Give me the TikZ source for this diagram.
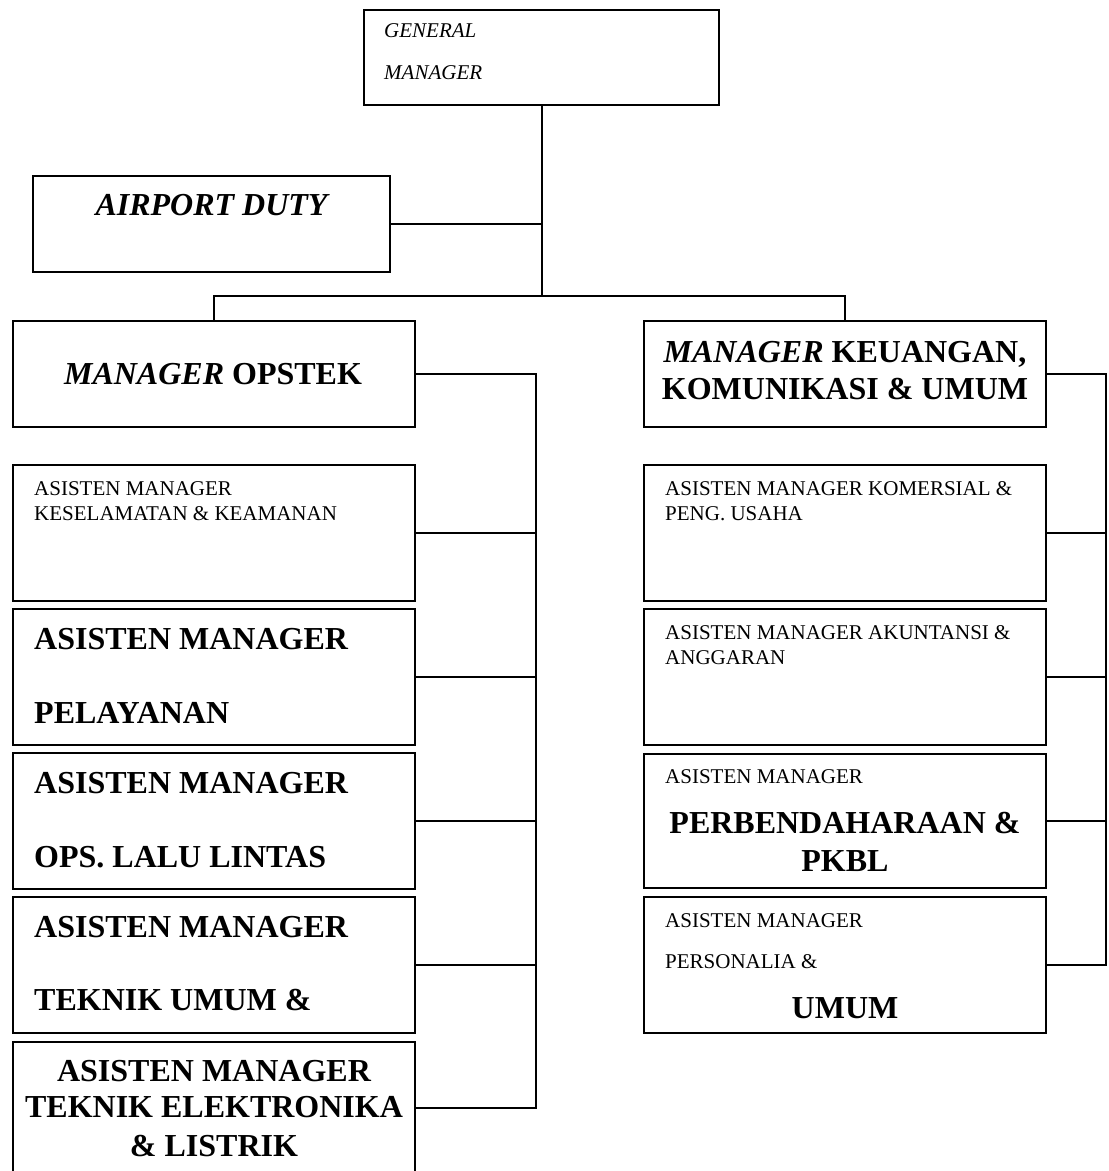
\documentclass[tikz,border=0pt]{standalone}
\usepackage{fontspec}
\setmainfont{Liberation Serif}
\begin{document}
\begin{tikzpicture}[x=1pt,y=-1pt,
  box/.style={draw=black,line width=2pt,rectangle,inner sep=0pt,fill=white},
  conn/.style={draw=black,line width=2pt},
  sm/.style={inner sep=0pt,anchor=base west,font=\fontsize{21}{25}\selectfont},
  smi/.style={inner sep=0pt,anchor=base west,font=\fontsize{21}{25}\selectfont\itshape},
  bg/.style={inner sep=0pt,anchor=base west,font=\fontsize{32}{38}\selectfont\bfseries},
  bgc/.style={inner sep=0pt,anchor=base,font=\fontsize{32}{38}\selectfont\bfseries}]
\useasboundingbox (0,0) rectangle (1109,1171);
\clip (0,0) rectangle (1109,1171);
\fill[white] (0,0) rectangle (1109,1171);

% boxes
\node[box,minimum width=355pt,minimum height=95pt] (gm) at (541.5,57.5) {};
\node[box,minimum width=357pt,minimum height=96pt] (ad) at (211.5,224) {};
\node[box,minimum width=402pt,minimum height=106pt] (op) at (214,374) {};
\node[box,minimum width=402pt,minimum height=136pt] (ks) at (214,533) {};
\node[box,minimum width=402pt,minimum height=136pt] (pl) at (214,677) {};
\node[box,minimum width=402pt,minimum height=136pt] (ol) at (214,821) {};
\node[box,minimum width=402pt,minimum height=136pt] (tu) at (214,965) {};
\node[box,minimum width=402pt,minimum height=132pt] (el) at (214,1108) {};
\node[box,minimum width=402pt,minimum height=106pt] (kc) at (845,374) {};
\node[box,minimum width=402pt,minimum height=136pt] (km) at (845,533) {};
\node[box,minimum width=402pt,minimum height=136pt] (ak) at (845,677) {};
\node[box,minimum width=402pt,minimum height=134pt] (pb) at (845,821) {};
\node[box,minimum width=402pt,minimum height=136pt] (ps) at (845,965) {};

% helper coordinates
\coordinate (busM) at (541.5,296);
\coordinate (lbx) at (536,0);
\coordinate (rbx) at (1106,0);

% connectors
\draw[conn] (gm.south) -- (busM);
\draw[conn] (ad.east) -- (ad.east -| busM);
\draw[conn] (op.north) |- (busM) -| (kc.north);
\draw[conn] (op.east) -- (op.east -| lbx) -- (el.east -| lbx) -- (el.east);
\draw[conn] (ks.east) -- (ks.east -| lbx);
\draw[conn] (pl.east) -- (pl.east -| lbx);
\draw[conn] (ol.east) -- (ol.east -| lbx);
\draw[conn] (tu.east) -- (tu.east -| lbx);
\draw[conn] (kc.east) -- (kc.east -| rbx) -- (ps.east -| rbx) -- (ps.east);
\draw[conn] (km.east) -- (km.east -| rbx);
\draw[conn] (ak.east) -- (ak.east -| rbx);
\draw[conn] (pb.east) -- (pb.east -| rbx);

% texts
\node[smi] (gmT1) at (384,37) {GENERAL};
\node[smi] (gmT2) at (384,79) {MANAGER};
\node[bgc,font=\fontsize{32}{38}\selectfont\bfseries\itshape] (adT) at (211.5,215) {AIRPORT DUTY};
\node[bgc] (opT) at (213,384) {\textit{MANAGER} OPSTEK};
\node[bgc] (kcT1) at (845,362) {\textit{MANAGER} KEUANGAN,};
\node[bgc] (kcT2) at (845,399) {KOMUNIKASI \& UMUM};

\node[sm] (ksT1) at (34,495) {ASISTEN MANAGER};
\node[sm] (ksT2) at (34,520) {KESELAMATAN \& KEAMANAN};
\node[bg] (plT1) at (34,649) {ASISTEN MANAGER};
\node[bg] (plT2) at (34,723) {PELAYANAN};
\node[bg] (olT1) at (34,793) {ASISTEN MANAGER};
\node[bg] (olT2) at (34,867) {OPS. LALU LINTAS};
\node[bg] (tuT1) at (34,937) {ASISTEN MANAGER};
\node[bg] (tuT2) at (34,1010) {TEKNIK UMUM \&};
\node[bgc] (elT1) at (214,1081) {ASISTEN MANAGER};
\node[bgc] (elT2) at (214,1117) {TEKNIK ELEKTRONIKA};
\node[bgc] (elT3) at (214,1156) {\& LISTRIK};

\node[sm] (kmT1) at (665,495) {ASISTEN MANAGER KOMERSIAL \&};
\node[sm] (kmT2) at (665,520) {PENG. USAHA};
\node[sm] (akT1) at (665,639) {ASISTEN MANAGER AKUNTANSI \&};
\node[sm] (akT2) at (665,664) {ANGGARAN};
\node[sm] (pbT1) at (665,783) {ASISTEN MANAGER};
\node[bgc] (pbT2) at (845,833) {PERBENDAHARAAN \&};
\node[bgc] (pbT3) at (845,871) {PKBL};
\node[sm] (psT1) at (665,927) {ASISTEN MANAGER};
\node[sm] (psT2) at (665,968) {PERSONALIA \&};
\node[bgc] (psT3) at (845,1018) {UMUM};
\end{tikzpicture}
\end{document}
